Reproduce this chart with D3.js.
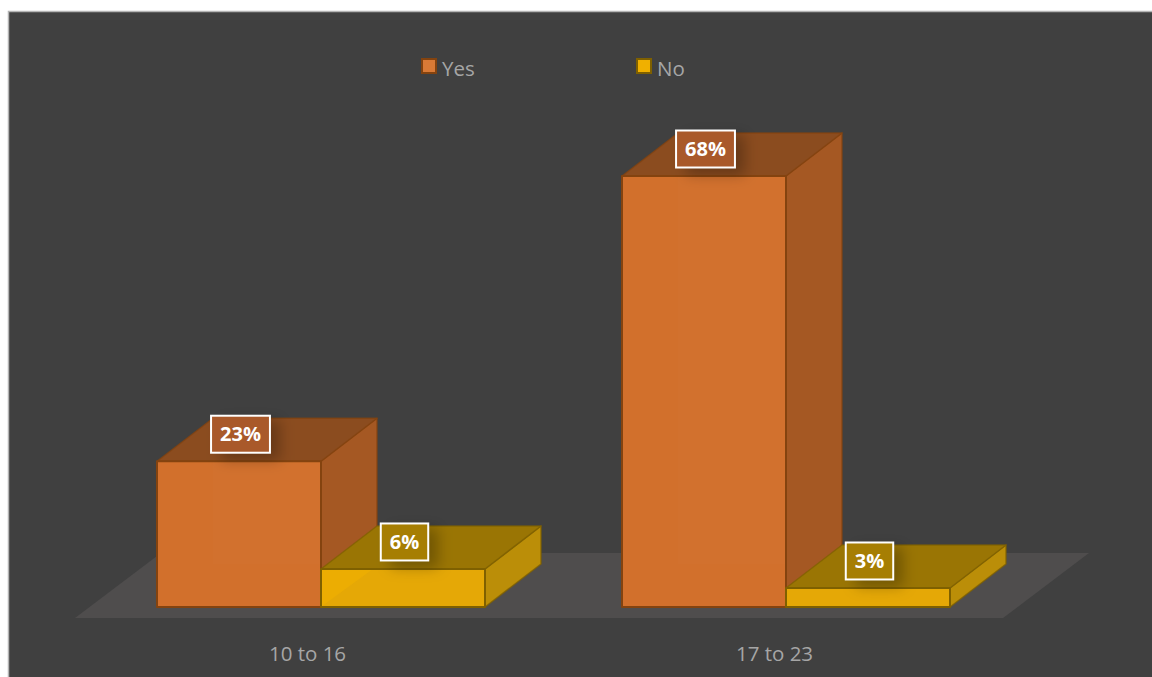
<!DOCTYPE html>
<html><head><meta charset="utf-8">
<script src="https://cdn.jsdelivr.net/npm/d3@7/dist/d3.min.js"></script>
<style>html,body{margin:0;padding:0;background:#fff;overflow:hidden}svg{display:block}</style>
</head><body><svg id="c" width="1152" height="677"></svg>
<script>
const categories = ["10 to 16", "17 to 23"];
const seriesNames = ["Yes", "No"];
const yesValues = [23, 68];
const noValues = [6, 3];
const seriesValues = [yesValues, noValues];
const seriesColors = [
  {front:"#d2702c", side:"#a55823", top:"#8b4c1f", back:"#d97a36", stroke:"#84430f", box:"#a9592a"},
  {front:"#e5a806", side:"#bb8e08", top:"#9a7504", back:"#f0b000", stroke:"#7f6000", box:"#a67e03"}
];
const DEPTH_X = 56, DEPTH_Y = 43;

const svg = d3.select("#c");
const defs = svg.append("defs");
const f = defs.append("filter").attr("id","lblShadow").attr("x","-60%").attr("y","-60%").attr("width","220%").attr("height","220%");
f.append("feGaussianBlur").attr("stdDeviation",7);

const y = d3.scaleLinear().domain([0,68]).range([607,176]);
const x0 = d3.scaleBand().domain(categories).range([88.5,1018.5]).paddingInner(0).paddingOuter(0);
const x1 = d3.scaleBand().domain(seriesNames).range([x0.bandwidth()/2-164, x0.bandwidth()/2+164]);
const poly = pts => d3.line()(pts)+"Z";

// panel
svg.append("rect").attr("x",8.5).attr("y",11.5).attr("width",1160).attr("height",680)
  .attr("fill","#404040").attr("stroke","#b4b4b4").attr("stroke-width",1.5);

// floor
const y0 = y(0);
const floor = [[75,618],[1003,618],[1089,553],[161,553]];
svg.append("path").attr("d",poly(floor)).attr("fill","#4f4d4d");

const bars = [];
categories.forEach((c,i)=>seriesNames.forEach((s,j)=>bars.push({c,s,j,v:seriesValues[j][i]})));

// bars
bars.forEach(d=>{
  const col = seriesColors[d.j];
  const l = x0(d.c)+x1(d.s), r = l+x1.bandwidth(), t = y(d.v), b = y0;
  const g = svg.append("g").attr("stroke-linejoin","round");
  const dx=DEPTH_X, dy=DEPTH_Y;
  g.append("path").attr("d",poly([[r,t],[r+dx,t-dy],[r+dx,b-dy],[r,b]]))
    .attr("fill",col.side).attr("stroke",col.stroke).attr("stroke-opacity",.75).attr("stroke-width",1.5);
  g.append("path").attr("d",poly([[l,t],[r,t],[r+dx,t-dy],[l+dx,t-dy]]))
    .attr("fill",col.top).attr("stroke",col.stroke).attr("stroke-opacity",.75).attr("stroke-width",1.5);
  g.append("path").attr("d",poly([[l,t],[r,t],[r,b],[l,b]]))
    .attr("fill",col.front).attr("stroke",col.stroke).attr("stroke-width",2);
  // faint see-through of the hidden back faces
  if(d.j===0) g.append("path").attr("d",poly([[l+dx,t+1],[r-1,t+1],[r-1,b-dy],[l+dx,b-dy]]))
    .attr("fill","#ffffff").attr("fill-opacity",.01);
  if(d.j===1 && b-t>30) g.append("path").attr("d",poly([[l+1,b-1],[l+dx*.9,t+1],[l+1,t+1]]))
    .attr("fill",col.back).attr("fill-opacity",.6);
  d.l=l;d.r=r;d.t=t;
});

// data labels
bars.forEach(d=>{
  const col = seriesColors[d.j];
  const cx = (d.l+d.r)/2+1.5, cy = d.t-27;
  const g = svg.append("g");
  const txt = g.append("text").attr("x",cx).attr("y",cy+7).attr("text-anchor","middle")
    .attr("font-family","'Open Sans'").attr("font-weight",700).attr("font-size",20).attr("fill","#fff").text(d.v+"%");
  const w = txt.node().getComputedTextLength()+18;
  g.insert("rect","text").attr("x",cx-w/2+10).attr("y",cy-14).attr("width",w).attr("height",40)
    .attr("fill","#000").attr("fill-opacity",.26).attr("filter","url(#lblShadow)");
  g.insert("rect","text").attr("x",cx-w/2).attr("y",cy-18.5).attr("width",w).attr("height",37)
    .attr("fill",col.box).attr("stroke","#fff").attr("stroke-width",2);
});

// category axis
const axis = d3.axisBottom(d3.scalePoint().domain(categories).range([x0(categories[0])+x0.bandwidth()/2-14, x0(categories[1])+x0.bandwidth()/2-12])).tickSize(0);
const ax = svg.append("g").attr("transform","translate(0,640)").call(axis);
ax.select(".domain").remove();
ax.selectAll("text").attr("y",21).attr("dy",0).attr("font-family","'Open Sans'").attr("font-size",20.5).attr("fill","#a6a6a6");

// legend
const legendX = d3.scalePoint().domain(seriesNames).range([421,636]);
seriesNames.forEach((s,j)=>{
  const col = seriesColors[j];
  svg.append("rect").attr("x",legendX(s)+1).attr("y",59).attr("width",14).attr("height",14)
    .attr("fill",col.back).attr("stroke",col.stroke).attr("stroke-width",2);
  svg.append("text").attr("x",legendX(s)+21).attr("y",75.5).attr("font-family","'Open Sans'").attr("font-size",20.5)
    .attr("fill","#a6a6a6").text(s);
});
</script></body></html>
